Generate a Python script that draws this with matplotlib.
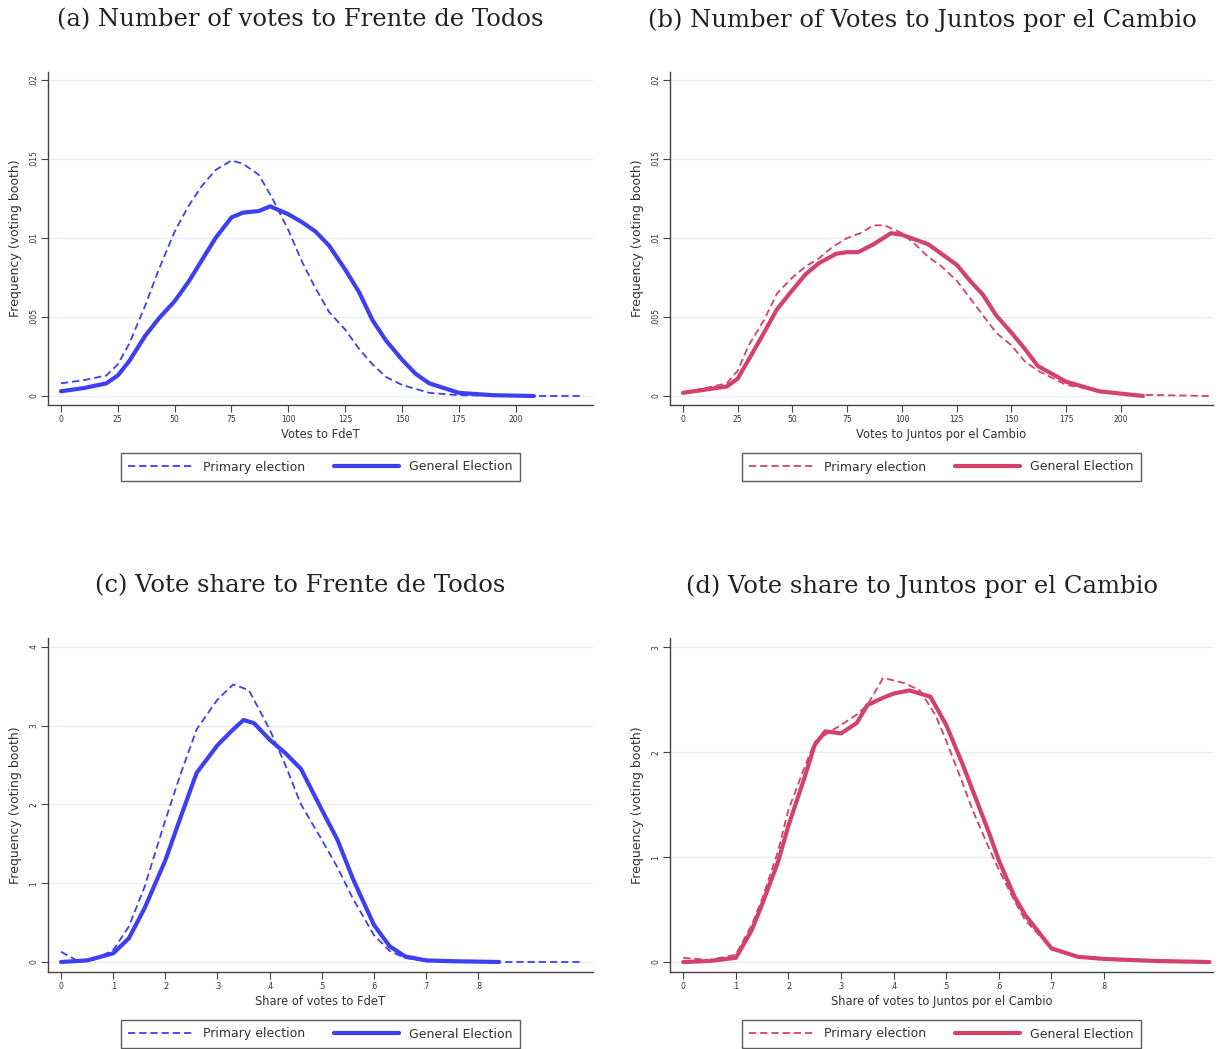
import matplotlib
matplotlib.use("Agg")
import matplotlib.pyplot as plt
from matplotlib.ticker import FixedLocator, FixedFormatter

# ---------------- data ----------------
# (a) votes to FdeT (density, x1e-3)
a_prim_x = [0, 10, 20, 25, 30, 37, 43, 50, 56, 62, 68, 75, 80, 87, 93, 100, 106, 112, 118, 125, 131, 137, 143, 150, 162, 175, 200, 230]
a_prim_y = [0.8, 1.0, 1.3, 2.0, 3.3, 5.7, 8.0, 10.4, 12.0, 13.3, 14.3, 14.9, 14.7, 14.0, 12.5, 10.5, 8.5, 6.8, 5.3, 4.2, 3.0, 2.0, 1.2, 0.7, 0.2, 0.05, 0.0, 0.0]
a_gen_x = [0, 10, 20, 25, 30, 37, 43, 50, 56, 62, 68, 75, 80, 87, 92, 100, 106, 112, 118, 125, 131, 137, 143, 150, 156, 162, 175, 190, 208]
a_gen_y = [0.3, 0.5, 0.8, 1.3, 2.2, 3.8, 4.9, 6.0, 7.2, 8.6, 10.0, 11.3, 11.6, 11.7, 12.0, 11.5, 11.0, 10.4, 9.5, 8.0, 6.6, 4.8, 3.5, 2.3, 1.4, 0.8, 0.2, 0.05, 0.0]

# (b) votes to Juntos por el Cambio (density, x1e-3)
b_prim_x = [0, 10, 20, 25, 30, 37, 43, 50, 56, 62, 68, 75, 81, 87, 92, 100, 106, 112, 118, 125, 131, 137, 143, 150, 156, 162, 175, 200, 240]
b_prim_y = [0.2, 0.5, 0.8, 1.6, 3.2, 4.8, 6.5, 7.5, 8.2, 8.7, 9.4, 10.0, 10.3, 10.8, 10.8, 10.3, 9.6, 8.8, 8.2, 7.3, 6.2, 5.1, 4.0, 3.2, 2.2, 1.6, 0.7, 0.1, 0.0]
b_gen_x = [0, 10, 20, 25, 30, 37, 43, 50, 56, 62, 70, 75, 80, 87, 95, 100, 106, 112, 118, 125, 131, 137, 143, 150, 156, 162, 175, 190, 210]
b_gen_y = [0.2, 0.4, 0.6, 1.1, 2.3, 4.0, 5.5, 6.7, 7.7, 8.4, 9.0, 9.1, 9.1, 9.6, 10.3, 10.2, 9.9, 9.6, 9.0, 8.3, 7.3, 6.4, 5.1, 4.0, 3.0, 1.9, 0.9, 0.3, 0.0]

# (c) vote share to FdeT
c_prim_x = [0, .03, .06, .1, .13, .16, .2, .23, .26, .3, .33, .36, .4, .43, .46, .5, .53, .56, .6, .63, .66, .7, .8, 1.0]
c_prim_y = [0.13, 0.02, 0.02, 0.15, 0.45, 0.95, 1.8, 2.4, 2.95, 3.33, 3.52, 3.45, 2.95, 2.5, 2.0, 1.55, 1.2, 0.8, 0.34, 0.14, 0.05, 0.01, 0.0, 0.0]
c_gen_x = [0, .05, .1, .13, .16, .2, .23, .26, .3, .33, .35, .37, .4, .43, .46, .5, .53, .56, .6, .63, .66, .7, .75, .84]
c_gen_y = [0.0, 0.02, 0.11, 0.3, 0.68, 1.29, 1.85, 2.4, 2.75, 2.95, 3.07, 3.03, 2.82, 2.65, 2.45, 1.93, 1.55, 1.05, 0.47, 0.2, 0.07, 0.02, 0.01, 0.0]

# (d) vote share to Juntos por el Cambio
d_prim_x = [0, .05, .1, .13, .15, .18, .2, .23, .25, .28, .3, .33, .35, .38, .42, .45, .48, .5, .53, .55, .58, .6, .63, .65, .7, .75, .8, 1.0]
d_prim_y = [0.04, 0.02, 0.07, 0.35, 0.6, 1.05, 1.45, 1.85, 2.1, 2.2, 2.26, 2.36, 2.45, 2.71, 2.66, 2.59, 2.35, 2.11, 1.72, 1.45, 1.1, 0.88, 0.58, 0.4, 0.13, 0.05, 0.02, 0.0]
d_gen_x = [0, .05, .1, .13, .15, .18, .2, .23, .25, .27, .3, .33, .35, .38, .4, .43, .47, .5, .53, .55, .58, .6, .63, .65, .7, .75, .8, .9, 1.0]
d_gen_y = [0.0, 0.01, 0.04, 0.3, 0.55, 0.95, 1.3, 1.75, 2.07, 2.2, 2.18, 2.28, 2.45, 2.52, 2.56, 2.59, 2.53, 2.26, 1.9, 1.64, 1.25, 0.97, 0.62, 0.45, 0.13, 0.05, 0.03, 0.01, 0.0]

titles = ["(a) Number of votes to Frente de Todos",
          "(b) Number of Votes to Juntos por el Cambio",
          "(c) Vote share to Frente de Todos",
          "(d) Vote share to Juntos por el Cambio"]
xlabels = ["Votes to FdeT", "Votes to Juntos por el Cambio",
           "Share of votes to FdeT", "Share of votes to Juntos por el Cambio"]
ylabel = "Frequency (voting booth)"
legend_labels = ["Primary election", "General Election"]

count_xticks = [0, 25, 50, 75, 100, 125, 150, 175, 200]
count_xticklabels = ["0", "25", "50", "75", "100", "125", "150", "175", "200"]
share_xticks = [0, .1, .2, .3, .4, .5, .6, .7, .8]
share_xticklabels = ["0", ".1", ".2", ".3", ".4", ".5", ".6", ".7", ".8"]
count_yticks = [0, .005, .01, .015, .02]
count_yticklabels = ["0", ".005", ".01", ".015", ".02"]
c_yticks = [0, 1, 2, 3, 4]
c_yticklabels = ["0", "1", "2", "3", "4"]
d_yticks = [0, 1, 2, 3]
d_yticklabels = ["0", "1", "2", "3"]

BLUE = "#3f3ff2"
RED = "#d3426b"

W, H = 1219, 1049
fig = plt.figure(figsize=(W / 100, H / 100), dpi=100)

def px_axes(l, r, t, b):
    return fig.add_axes([l / W, 1 - b / H, (r - l) / W, (b - t) / H])

panels = [
    dict(rect=(48, 593, 72, 405), px=a_prim_x, py=[v * 1e-3 for v in a_prim_y],
         gx=a_gen_x, gy=[v * 1e-3 for v in a_gen_y], col=BLUE,
         xlim=(-5.7, 234), ylim=(-0.00057, 0.0205),
         xt=count_xticks, xtl=count_xticklabels, yt=count_yticks, ytl=count_yticklabels,
         tx=300),
    dict(rect=(670, 1213, 72, 405), px=b_prim_x, py=[v * 1e-3 for v in b_prim_y],
         gx=b_gen_x, gy=[v * 1e-3 for v in b_gen_y], col=RED,
         xlim=(-5.9, 242), ylim=(-0.00057, 0.0205),
         xt=count_xticks, xtl=count_xticklabels, yt=count_yticks, ytl=count_yticklabels,
         tx=922),
    dict(rect=(48, 593, 638, 972), px=c_prim_x, py=c_prim_y, gx=c_gen_x, gy=c_gen_y,
         col=BLUE, xlim=(-0.025, 1.02), ylim=(-0.127, 4.11),
         xt=share_xticks, xtl=share_xticklabels, yt=c_yticks, ytl=c_yticklabels,
         tx=300),
    dict(rect=(670, 1213, 638, 972), px=d_prim_x, py=d_prim_y, gx=d_gen_x, gy=d_gen_y,
         col=RED, xlim=(-0.025, 1.007), ylim=(-0.095, 3.09),
         xt=share_xticks, xtl=share_xticklabels, yt=d_yticks, ytl=d_yticklabels,
         tx=922),
]
title_y = [20, 20, 586, 586]

for i, p in enumerate(panels):
    l, r, t, b = p["rect"]
    ax = px_axes(l, r, t, b)
    for yv in p["yt"]:
        ax.axhline(yv, color="#e6eef0", lw=0.9, zorder=0)
    ax.plot(p["px"], p["py"], color=p["col"], lw=1.3, ls=(0, (4, 2.2)),
            label=legend_labels[0], solid_capstyle="round")
    ax.plot(p["gx"], p["gy"], color=p["col"], lw=3.0, label=legend_labels[1],
            solid_joinstyle="round", solid_capstyle="round")
    ax.set_xlim(*p["xlim"])
    ax.set_ylim(*p["ylim"])
    ax.spines["top"].set_visible(False)
    ax.spines["right"].set_visible(False)
    for s in ("left", "bottom"):
        ax.spines[s].set_color("#444444")
        ax.spines[s].set_linewidth(1.0)
    ax.xaxis.set_major_locator(FixedLocator(p["xt"]))
    ax.xaxis.set_major_formatter(FixedFormatter(p["xtl"]))
    ax.yaxis.set_major_locator(FixedLocator(p["yt"]))
    ax.yaxis.set_major_formatter(FixedFormatter(p["ytl"]))
    ax.tick_params(axis="both", direction="out", length=5, width=0.8,
                   color="#444444", labelsize=5.5, labelcolor="#333333", pad=2)
    for lab in ax.get_yticklabels():
        lab.set_rotation(90)
        lab.set_va("center")
    ax.set_xlabel(xlabels[i], fontsize=8.3, color="#333333", labelpad=3)
    ax.set_ylabel(ylabel, fontsize=9, color="#333333", labelpad=5)
    center_y = 467 if i < 2 else 1034
    anchor_y = (b - center_y) / (b - t)
    leg = ax.legend(loc="center", bbox_to_anchor=(0.5, anchor_y), ncol=2,
                    fontsize=9, handlelength=5.2, columnspacing=2.3,
                    frameon=True, fancybox=False, edgecolor="#333333",
                    borderpad=0.6, handletextpad=0.8, borderaxespad=0)
    leg.get_frame().set_linewidth(1.0)
    for txt in leg.get_texts():
        txt.set_color("#333333")
    fig.text(p["tx"] / W, 1 - title_y[i] / H, titles[i], ha="center", va="center",
             fontsize=17.5, family="DejaVu Serif", color="#222222")

fig.savefig("out.png", dpi=100, facecolor="white")
